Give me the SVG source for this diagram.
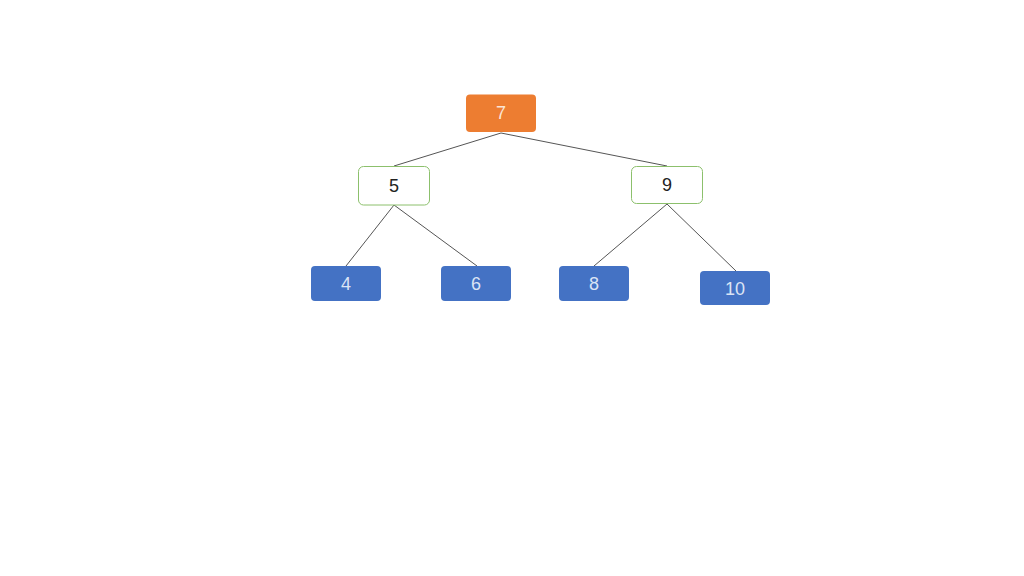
<svg xmlns="http://www.w3.org/2000/svg" width="1024" height="576" viewBox="0 0 1024 576">
<style>
.t{font-family:"Liberation Sans",Arial,sans-serif;font-size:18px;text-anchor:middle;dominant-baseline:central}
.b{fill:#4472c4}
.w{fill:#fff;stroke:#8cc06c;stroke-width:1}
.e{stroke:#555;stroke-width:1;fill:none}
</style>
<rect width="1024" height="576" fill="#fff"/>
<g id="connectors">
<line class="e" x1="501" y1="133" x2="394" y2="166"/>
<line class="e" x1="501" y1="133" x2="667" y2="166"/>
<line class="e" x1="394" y1="205" x2="346" y2="266"/>
<line class="e" x1="394" y1="205" x2="477" y2="266"/>
<line class="e" x1="667" y1="204" x2="594" y2="266"/>
<line class="e" x1="667" y1="204" x2="736" y2="271"/>
</g>
<g id="n7"><rect x="466" y="94.5" width="70" height="37.5" rx="4" fill="#ed7d31"/><text class="t" x="501" y="113" fill="#fbe5d6">7</text></g>
<g id="n5"><rect class="w" x="358.5" y="166.5" width="71" height="38.5" rx="5"/><text class="t" x="394" y="186" fill="#222">5</text></g>
<g id="n9"><rect class="w" x="631.5" y="166.5" width="71" height="37" rx="5"/><text class="t" x="667" y="185" fill="#222">9</text></g>
<g id="n4"><rect class="b" x="311" y="266" width="70" height="35" rx="4"/><text class="t" x="346" y="284" fill="#dbe4f5">4</text></g>
<g id="n6"><rect class="b" x="441" y="266" width="70" height="35" rx="4"/><text class="t" x="476" y="284" fill="#dbe4f5">6</text></g>
<g id="n8"><rect class="b" x="559" y="266" width="70" height="35" rx="4"/><text class="t" x="594" y="284" fill="#dbe4f5">8</text></g>
<g id="n10"><rect class="b" x="700" y="271" width="70" height="34" rx="4"/><text class="t" x="735" y="289" fill="#dbe4f5">10</text></g>
</svg>
